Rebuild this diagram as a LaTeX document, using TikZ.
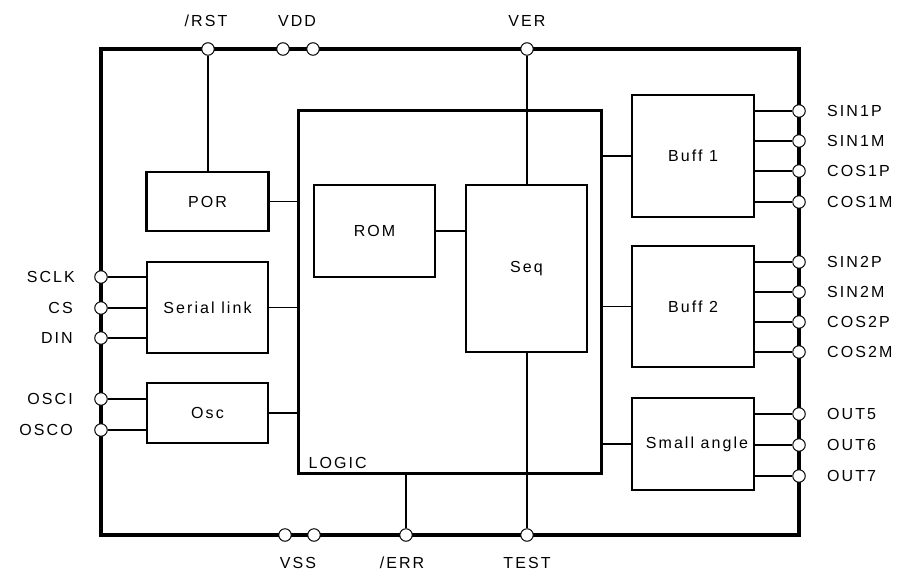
\documentclass[tikz,border=0pt]{standalone}
\usepackage{fontspec}
\setmainfont{Liberation Sans}[LetterSpace=13]
\pgfdeclarelayer{bg}
\pgfsetlayers{bg,main}
\begin{document}
\begin{tikzpicture}[x=1pt,y=-1pt,
  font=\fontsize{16}{19}\selectfont,
  box/.style={draw, line width=2.2pt, inner sep=0pt},
  pinc/.style={circle, draw, fill=white, line width=1pt, minimum size=12.5pt, inner sep=0pt},
  wire/.style={line width=1.3pt},
  frame/.style={line width=3.5pt},
  lbl/.style={inner sep=0pt}]
\useasboundingbox (0,0) rectangle (899,573);
\begin{pgfonlayer}{bg}
\fill[white] (0,0) rectangle (899,573);
% chip outline
\draw[frame] (101,49) rectangle (799,535);
\end{pgfonlayer}

% blocks
\node[box, minimum width=122pt, minimum height=59pt] (por) at (207.5,201.5) {POR};
\node[box, minimum width=121pt, minimum height=91pt] (serial) at (207.5,307.5) {Serial link};
\node[box, minimum width=121pt, minimum height=60pt] (osc) at (207.5,413) {Osc};
\node[box, line width=3pt, minimum width=303pt, minimum height=363pt] (logic) at (449.5,291.5) {};
\node[lbl, anchor=base west] (logiclbl) at ([shift={(12,-6)}]logic.south west) {LOGIC};
\node[box, minimum width=121pt, minimum height=92pt] (rom) at (374.5,231) {ROM};
\node[box, minimum width=121pt, minimum height=167pt] (seq) at (526.5,268.5) {Seq};
\node[box, minimum width=122pt, minimum height=122pt] (buff1) at (693,156) {Buff 1};
\node[box, minimum width=122pt, minimum height=121pt] (buff2) at (693,306.5) {Buff 2};
\node[box, minimum width=122pt, minimum height=92pt] (small) at (693,444) {\hspace*{8pt}Small angle};

% pins: top
\node[pinc] (rst) at (208,49) {};
\node[pinc] (vdda) at (283,49) {};
\node[pinc] (vddb) at (313,49) {};
\node[pinc] (ver) at (527,49) {};
% bottom
\node[pinc] (vssa) at (285,535) {};
\node[pinc] (vssb) at (314,535) {};
\node[pinc] (err) at (406,535) {};
\node[pinc] (test) at (527,535) {};
% left
\node[pinc] (sclk) at (101,277) {};
\node[pinc] (cs) at (101,308) {};
\node[pinc] (din) at (101,338) {};
\node[pinc] (osci) at (101,399) {};
\node[pinc] (osco) at (101,430) {};
% right
\node[pinc] (sinap) at (799,111) {};
\node[pinc] (sinam) at (799,141) {};
\node[pinc] (cosap) at (799,171) {};
\node[pinc] (cosam) at (799,202) {};
\node[pinc] (sinbp) at (799,262) {};
\node[pinc] (sinbm) at (799,292) {};
\node[pinc] (cosbp) at (799,322) {};
\node[pinc] (cosbm) at (799,352) {};
\node[pinc] (outa) at (799,414) {};
\node[pinc] (outb) at (799,445) {};
\node[pinc] (outc) at (799,476) {};

% wires (behind pins)
\begin{pgfonlayer}{bg}
\draw[wire] (rst) -- (rst |- por.north);
\draw[wire] (ver) -- (ver |- seq.north);
\draw[wire] (test) -- (test |- seq.south);
\draw[wire] (err) -- (err |- logic.south);
\draw[wire] (por.east) -- (por.east -| logic.west);
\draw[wire] (serial.east) -- (serial.east -| logic.west);
\draw[wire] (osc.east) -- (osc.east -| logic.west);
\draw[wire] (rom.east) -- (rom.east -| seq.west);
\draw[wire] (buff1.west) -- (buff1.west -| logic.east);
\draw[wire] (buff2.west) -- (buff2.west -| logic.east);
\draw[wire] (small.west) -- (small.west -| logic.east);
\draw[wire] (sclk) -- (sclk -| serial.west);
\draw[wire] (cs) -- (cs -| serial.west);
\draw[wire] (din) -- (din -| serial.west);
\draw[wire] (osci) -- (osci -| osc.west);
\draw[wire] (osco) -- (osco -| osc.west);
\draw[wire] (sinap) -- (sinap -| buff1.east);
\draw[wire] (sinam) -- (sinam -| buff1.east);
\draw[wire] (cosap) -- (cosap -| buff1.east);
\draw[wire] (cosam) -- (cosam -| buff1.east);
\draw[wire] (sinbp) -- (sinbp -| buff2.east);
\draw[wire] (sinbm) -- (sinbm -| buff2.east);
\draw[wire] (cosbp) -- (cosbp -| buff2.east);
\draw[wire] (cosbm) -- (cosbm -| buff2.east);
\draw[wire] (outa) -- (outa -| small.east);
\draw[wire] (outb) -- (outb -| small.east);
\draw[wire] (outc) -- (outc -| small.east);
\end{pgfonlayer}

% pin labels
\node[lbl, anchor=base] (lrst) at (206,26) {/RST};
\node[lbl, anchor=base] (lvdd) at (297,26) {VDD};
\node[lbl, anchor=base] (lver) at (527,26) {VER};
\node[lbl, anchor=base] (lvss) at (298,568) {VSS};
\node[lbl, anchor=base] (lerr) at (402,568) {/ERR};
\node[lbl, anchor=base] (ltest) at (527,568) {TEST};
\node[lbl, anchor=east] (lsclk) at (75,277) {SCLK};
\node[lbl, anchor=east] (lcs) at (73,308) {CS};
\node[lbl, anchor=east] (ldin) at (73,338) {DIN};
\node[lbl, anchor=east] (losci) at (73,399) {OSCI};
\node[lbl, anchor=east] (losco) at (73,430) {OSCO};
\node[lbl, anchor=west] (lsinap) at (827,111) {SIN1P};
\node[lbl, anchor=west] (lsinam) at (827,141) {SIN1M};
\node[lbl, anchor=west] (lcosap) at (827,171) {COS1P};
\node[lbl, anchor=west] (lcosam) at (827,202) {COS1M};
\node[lbl, anchor=west] (lsinbp) at (827,262) {SIN2P};
\node[lbl, anchor=west] (lsinbm) at (827,292) {SIN2M};
\node[lbl, anchor=west] (lcosbp) at (827,322) {COS2P};
\node[lbl, anchor=west] (lcosbm) at (827,352) {COS2M};
\node[lbl, anchor=west] (louta) at (827,414) {OUT5};
\node[lbl, anchor=west] (loutb) at (827,445) {OUT6};
\node[lbl, anchor=west] (loutc) at (827,476) {OUT7};
\end{tikzpicture}
\end{document}
